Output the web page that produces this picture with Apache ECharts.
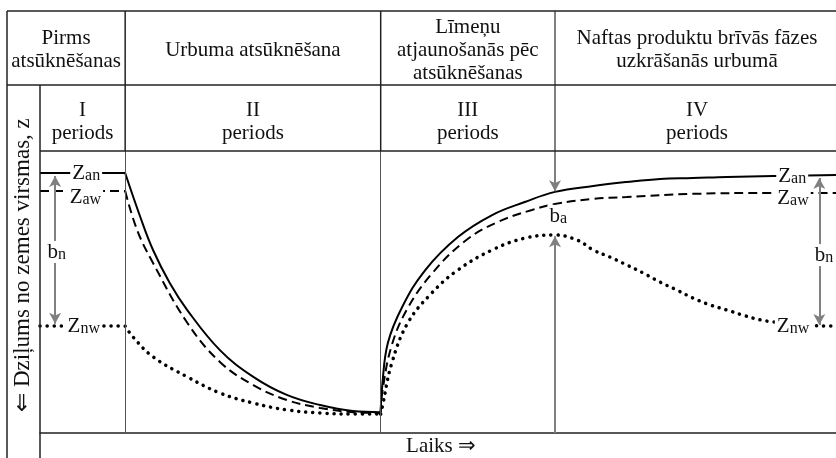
<!DOCTYPE html>
<html>
<head>
<meta charset="utf-8">
<script src="https://cdn.jsdelivr.net/npm/echarts@6/dist/echarts.min.js"></script>
<style>
html, body { margin: 0; padding: 0; background: #fff; }
#chart { width: 836px; height: 458px; }
</style>
</head>
<body>
<div id="chart"></div>
<script>
// time axis 0..100, depth axis 0..100 (down is deeper)
var periodBounds = [10.7, 42.8, 64.7];

var stageTitles = ['Pirms\natsūknēšanas', 'Urbuma atsūknēšana',
  'Līmeņu\natjaunošanās pēc\natsūknēšanas', 'Naftas produktu brīvās fāzes\nuzkrāšanās urbumā'];
var periodNames = ['I\nperiods', 'II\nperiods', 'III\nperiods', 'IV\nperiods'];

// z_an - solid, z_aw - dashed, z_nw - dotted  [time, depth]
var zAn = [[0, 7.8], [10.7, 7.8], [12.6, 23.4], [14.2, 35.1], [16.3, 46.8], [18.5, 56.4], [22.6, 70.6],
  [26.8, 80.1], [31.0, 86.5], [35.2, 90.1], [39.3, 92.2], [42.8, 92.6],
  [43.0, 83.0], [43.7, 68.1], [45.5, 55.3], [48.4, 42.2], [52.5, 30.5], [56.8, 22.7], [60.9, 18.1],
  [64.7, 14.5], [69.5, 12.4], [73.7, 11.0], [77.9, 9.9], [82.0, 9.6], [86.3, 9.2], [92.1, 8.9], [100, 8.5]];
var zAw = [[0, 14.2], [10.7, 14.2], [12.2, 28.0], [14.2, 39.7], [18.5, 60.9], [22.6, 74.8], [26.8, 83.0],
  [31.0, 88.3], [35.2, 91.1], [39.3, 92.6], [42.8, 92.9],
  [43.0, 85.5], [44.2, 68.8], [46.2, 55.7], [49.2, 43.6], [53.4, 31.9], [57.5, 25.2], [61.8, 20.9],
  [64.7, 18.8], [69.5, 17.0], [73.7, 16.3], [82.0, 15.2], [91.7, 14.9], [100, 14.9]];
var zNw = [[0, 62.1], [10.7, 62.1], [11.7, 66.0], [14.2, 73.0], [18.5, 80.1], [22.6, 85.8], [26.8, 89.4],
  [31.0, 91.8], [35.2, 92.9], [39.3, 93.3], [42.8, 93.3],
  [43.0, 90.8], [44.2, 75.2], [46.2, 61.0], [49.2, 50.4], [52.5, 42.2], [56.8, 35.1], [60.9, 30.9],
  [64.7, 29.8], [67.5, 31.6], [69.5, 35.1], [71.6, 37.6], [73.7, 40.4], [75.8, 43.3], [77.9, 46.5],
  [80.0, 49.3], [82.0, 52.1], [84.2, 54.6], [86.3, 56.4], [88.3, 58.2], [90.5, 59.9], [92.1, 60.6],
  [95.5, 61.7], [100, 62.1]];

var FONT = '"Liberation Serif", "Times New Roman", serif';
var rich = {
  m: { fontFamily: FONT, fontSize: 21, color: '#111', lineHeight: 22, verticalAlign: 'bottom' },
  s: { fontFamily: FONT, fontSize: 16, color: '#111', lineHeight: 10, verticalAlign: 'bottom' }
};
function sub(main, s) {
  return { show: true, position: 'inside', formatter: '{m|' + main + '}{s|' + s + '}', rich: rich,
    backgroundColor: '#fff', padding: [0, 2, 0, 2] };
}
function tag(t, d, main, s) {
  return { coord: [t, d], symbol: 'rect', symbolSize: 0, label: sub(main, s) };
}
var GRAY = '#808080';
function arrow(t, d1, d2, both) {
  return [{ coord: [t, d1], symbol: both ? 'arrow' : 'none' }, { coord: [t, d2], symbol: 'arrow' }];
}

// cut a curve at the period borders so every period is smoothed on its own
function pieces(arr) {
  var out = [], cur = [];
  arr.forEach(function (p, i) {
    cur.push(p);
    if (i > 0 && i < arr.length - 1 && (p[0] === periodBounds[0] || p[0] === periodBounds[1])) {
      out.push(cur);
      cur = [p];
    }
  });
  out.push(cur);
  return out;
}
var curveSeries = [];
[[zAn, { color: '#000', width: 2 }],
 [zAw, { color: '#000', width: 2, type: [9, 5] }],
 [zNw, { color: '#000', width: 3.5, type: [0.1, 7], cap: 'round' }]].forEach(function (c) {
  pieces(c[0]).forEach(function (seg) {
    curveSeries.push({ type: 'line', data: seg, smooth: seg.length > 2 ? 0.4 : false, symbol: 'none',
      silent: true, lineStyle: c[1] });
  });
});

var chart = echarts.init(document.getElementById('chart'));
var option = {
  animation: false,
  backgroundColor: '#fff',
  grid: { left: 40, right: 0, top: 151, bottom: 25 },
  xAxis: {
    type: 'value', min: 0, max: 100,
    axisLine: { show: true, onZero: false, lineStyle: { color: '#222', width: 1.5 } },
    axisTick: { show: false }, axisLabel: { show: false }, splitLine: { show: false }
  },
  yAxis: {
    type: 'value', min: 0, max: 100, inverse: true,
    axisLine: { show: false }, axisTick: { show: false }, axisLabel: { show: false }, splitLine: { show: false }
  },
  series: curveSeries.concat([
    { name: 'notes', type: 'line', data: [], symbol: 'none',
      markLine: {
        silent: true, symbol: ['none', 'none'], label: { show: false },
        lineStyle: { color: '#555', width: 1, type: 'solid' },
        data: [{ xAxis: periodBounds[0] }, { xAxis: periodBounds[1] }]
      }
    },
    { name: 'arrows', type: 'line', data: [], symbol: 'none',
      markLine: {
        silent: true, symbolSize: [9, 11], label: { show: false },
        lineStyle: { color: GRAY, width: 2, type: 'solid' },
        data: [arrow(1.9, 8.9, 61.3, true), arrow(97.9, 9.6, 61.7, true),
          arrow(periodBounds[2], 0, 14.3, false), arrow(periodBounds[2], 100, 30.2, false)]
      },
      markPoint: {
        silent: true, z: 8,
        data: [tag(5.8, 7.8, 'Z', 'an'), tag(5.7, 16.3, 'Z', 'aw'), tag(5.5, 62.1, 'Z', 'nw'),
          tag(2.1, 35.8, 'b', 'n'), tag(94.5, 8.8, 'Z', 'an'), tag(94.6, 16.7, 'Z', 'aw'),
          tag(94.6, 62.1, 'Z', 'nw'), tag(98.5, 36.9, 'b', 'n'), tag(65.1, 23.0, 'b', 'a')]
      }
    }
  ])
};
chart.setOption(option);

// header table and frame
var bx = periodBounds.map(function (v) { return chart.convertToPixel({ gridIndex: 0 }, [v, 0])[0]; });
var L = 7, A = 40, T = 11, M = 85, G = 151, H = 458, R = 836;
var lineStyle = { stroke: '#222', lineWidth: 1.5 };
var segs = [[L, T, R, T], [L, M, R, M], [A, G, R, G], [L, T, L, H], [A, M, A, H],
  [bx[0], T, bx[0], G], [bx[1], T, bx[1], G]];
var graphics = segs.map(function (s) {
  return { type: 'line', silent: true, shape: { x1: s[0], y1: s[1], x2: s[2], y2: s[3] }, style: lineStyle, z: 10 };
});
// the border before period IV is drawn in grey, like the arrow that continues it
graphics.push({ type: 'line', silent: true, z: 9, shape: { x1: bx[2], y1: T, x2: bx[2], y2: G },
  style: { stroke: GRAY, lineWidth: 2 } });
var row1 = [L, bx[0], bx[1], bx[2], R + 3];
var row2 = [A, bx[0], bx[1], bx[2], R + 3];
function cellText(txt, x, y) {
  return { type: 'text', silent: true, z: 10, x: x, y: y,
    style: { text: txt, font: '21px ' + FONT, fill: '#111', align: 'center', verticalAlign: 'middle', lineHeight: 23 } };
}
for (var i = 0; i < 4; i++) {
  graphics.push(cellText(stageTitles[i], (row1[i] + row1[i + 1]) / 2, (T + M) / 2 + 2));
  graphics.push(cellText(periodNames[i], (row2[i] + row2[i + 1]) / 2, (M + G) / 2 + 4));
}
graphics.push({ type: 'text', silent: true, z: 10, x: 23, y: 265, rotation: Math.PI / 2,
  style: { text: '⇐ Dziļums no zemes virsmas, z', font: '23px ' + FONT, fill: '#111', align: 'center', verticalAlign: 'middle' } });
graphics.push({ type: 'text', silent: true, z: 10, x: 441, y: 446,
  style: { text: 'Laiks ⇒', font: '21px ' + FONT, fill: '#111', align: 'center', verticalAlign: 'middle' } });
chart.setOption({ graphic: graphics });
</script>
</body>
</html>
